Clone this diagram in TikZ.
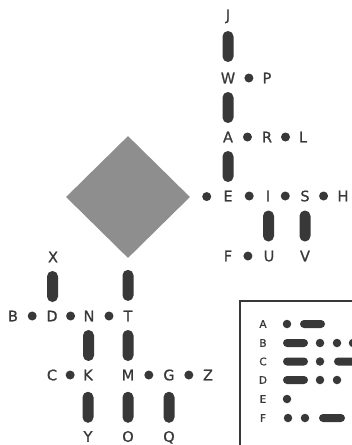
\documentclass[tikz,border=0pt]{standalone}
\usepackage{fontspec}
\setmainfont[FakeBold=0.8]{DejaVu Sans}
\usetikzlibrary{shapes.geometric}
\definecolor{inkc}{HTML}{383838}
\definecolor{diamc}{HTML}{8E8E8E}
\begin{document}
\begin{tikzpicture}[x=1pt,y=-1pt,
  ltr/.style={inner sep=0pt, text height=10.6pt, text depth=0pt, font=\fontsize{14.5}{16}\selectfont, text=inkc},
  tl/.style={inner sep=0pt, text height=7.6pt, text depth=0pt, font=\fontsize{10.5}{12}\selectfont, text=inkc},
  dotn/.style={circle, fill=inkc, inner sep=0pt, minimum size=9pt},
  barn/.style={fill=inkc, inner sep=0pt, minimum width=11pt, minimum height=31pt, rounded corners=5.4pt},
  mdot/.style={circle, fill=inkc, inner sep=0pt, minimum size=8.5pt},
  mdash/.style={fill=inkc, rounded corners=4pt},
  frame/.style={draw=inkc, line width=1.4pt}
]
\useasboundingbox (0,0) rectangle (352,445);

% root diamond
\node[diamond, fill=diamc, inner sep=0pt, minimum width=124pt, minimum height=122pt] (root) at (128,197) {};

% upper tree
\node[ltr] (J) at (228,15) {J};
\node[ltr] (W) at (228,78) {W};
\node[ltr] (P) at (267,78) {P};
\node[ltr] (A) at (228,137) {A};
\node[ltr] (R) at (267,137) {R};
\node[ltr] (L) at (303,137) {L};
\node[ltr] (E) at (228,196) {E};
\node[ltr] (I) at (268,196) {I};
\node[ltr] (S) at (305,196) {S};
\node[ltr] (H) at (343,196) {H};
\node[ltr] (F) at (228,256) {F};
\node[ltr] (U) at (269,256) {U};
\node[ltr] (V) at (305,256) {V};

% lower tree
\node[ltr] (X) at (53,257) {X};
\node[ltr] (B) at (13,316) {B};
\node[ltr] (D) at (52,316) {D};
\node[ltr] (N) at (89,316) {N};
\node[ltr] (T) at (128,316) {T};
\node[ltr] (C) at (52,375) {C};
\node[ltr] (K) at (88,375) {K};
\node[ltr] (M) at (128,375) {M};
\node[ltr] (G) at (169,375) {G};
\node[ltr] (Z) at (208,375) {Z};
\node[ltr] (Y) at (88,436.5) {Y};
\node[ltr] (O) at (128,436.5) {O};
\node[ltr] (Q) at (169,436.5) {Q};

% dashes (bars)
\path (W) -- node[barn]{} (J);
\path (A) -- node[barn]{} (W);
\path (E) -- node[barn]{} (A);
\path (I) -- node[barn]{} (U);
\path (S) -- node[barn]{} (V);
\path (D) -- node[barn]{} (X);
\path (root.south) -- node[barn, pos=0.52]{} (T);
\path (N) -- node[barn]{} (K);
\path (T) -- node[barn]{} (M);
\path (K) -- node[barn, pos=0.53]{} (Y);
\path (M) -- node[barn, pos=0.53]{} (O);
\path (G) -- node[barn, pos=0.53]{} (Q);

% dots
\path (root.east) -- node[dotn]{} (E);
\path (W) -- node[dotn]{} (P);
\path (A) -- node[dotn]{} (R);
\path (R) -- node[dotn]{} (L);
\path (E) -- node[dotn]{} (I);
\path (I) -- node[dotn]{} (S);
\path (S) -- node[dotn]{} (H);
\path (F) -- node[dotn]{} (U);
\path (B) -- node[dotn]{} (D);
\path (D) -- node[dotn]{} (N);
\path (N) -- node[dotn]{} (T);
\path (C) -- node[dotn]{} (K);
\path (M) -- node[dotn]{} (G);
\path (G) -- node[dotn]{} (Z);

% code table
\draw[frame] (240,447) -- (240,301) -- (354,301);
\node[tl] (tA) at (263,324) {A};
\node[tl] (tB) at (263,343) {B};
\node[tl] (tC) at (263,361.5) {C};
\node[tl] (tD) at (263,380) {D};
\node[tl] (tE) at (263,399) {E};
\node[tl] (tF) at (263,418) {F};
% A
\node[mdot] at (287,324) {};
\fill[mdash] (300,320) rectangle (325,328);
% B
\fill[mdash] (283,339) rectangle (308,347);
\node[mdot] at (320,343) {};
\node[mdot] at (337,343) {};
\node[mdot] at (353,343) {};
% C
\fill[mdash] (283,357.5) rectangle (308,365.5);
\node[mdot] at (320,361.5) {};
\fill[mdash] (334,357.5) rectangle (359,365.5);
% D
\fill[mdash] (283,376) rectangle (308,384);
\node[mdot] at (320,380) {};
\node[mdot] at (337,380) {};
% E
\node[mdot] at (287,399) {};
% F
\node[mdot] at (288,418) {};
\node[mdot] at (305,418) {};
\fill[mdash] (319,414) rectangle (345,422);
\end{tikzpicture}
\end{document}
